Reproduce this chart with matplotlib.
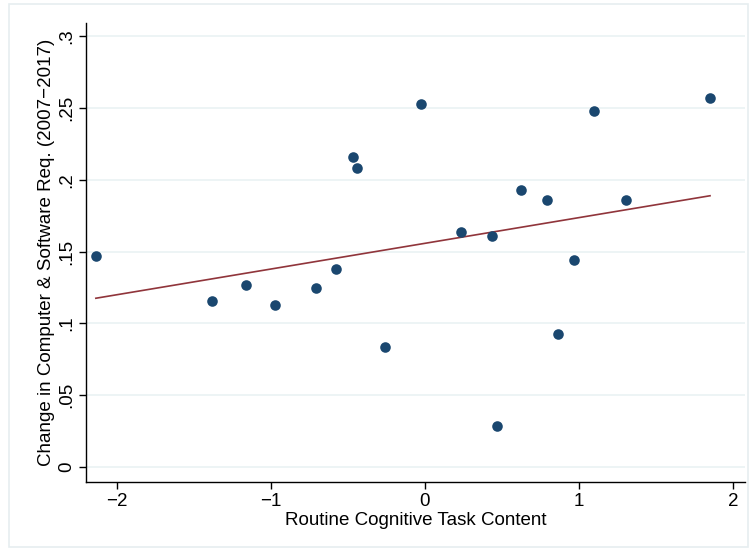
import numpy as np
import matplotlib.pyplot as plt
from matplotlib.patches import Rectangle

plt.rcParams['font.family'] = ['Liberation Sans', 'DejaVu Sans']

# routine cognitive task content vs change in computer & software requirements
rtc = [-2.136, -1.383, -1.162, -0.974, -0.708, -0.578, -0.468, -0.442, -0.260, -0.026,
       0.234, 0.435, 0.468, 0.623, 0.792, 0.864, 0.968, 1.097, 1.305, 1.851]
chg = [0.147, 0.1155, 0.127, 0.113, 0.125, 0.138, 0.216, 0.208, 0.0835, 0.2526,
       0.1635, 0.161, 0.0285, 0.193, 0.186, 0.0926, 0.144, 0.248, 0.186, 0.257]

# fitted line as shown (weighted fit in the source)
fit_intercept = 0.1558
fit_slope = 0.0179

xticks = [-2, -1, 0, 1, 2]
yticks = [0, 0.05, 0.1, 0.15, 0.2, 0.25, 0.3]
ylabels = ['0', '.05', '.1', '.15', '.2', '.25', '.3']

navy = '#1a476f'
maroon = '#90353b'

fig = plt.figure(figsize=(7.51, 5.5), dpi=100)
fig.patches.append(Rectangle((0.012, 0.005), 0.984, 0.987, transform=fig.transFigure,
                             fill=False, edgecolor='#e6eef0', linewidth=1.2))
ax = fig.add_axes([0.1145, 0.1236, 0.8775, 0.834])

ax.scatter(rtc, chg, s=58, color=navy, zorder=3, linewidths=0)

xs = np.array([min(rtc), max(rtc)])
ax.plot(xs, fit_intercept + fit_slope * xs, color=maroon, linewidth=1.2, zorder=2)

ax.set_xlim(-2.2, 2.078)
ax.set_ylim(-0.0104, 0.309)
ax.set_xticks(xticks)
ax.set_yticks(yticks)
ax.set_yticklabels(ylabels, rotation=90, va='center')
ax.tick_params(labelsize=13.5, length=5, width=1, direction='out', pad=3)
ax.grid(axis='y', color='#eaf2f3', linewidth=1.2)
ax.set_axisbelow(True)
for s in ['top', 'right']:
    ax.spines[s].set_visible(False)
ax.spines['left'].set_linewidth(1)
ax.spines['bottom'].set_linewidth(1)

ax.set_xlabel('Routine Cognitive Task Content', fontsize=13.5, labelpad=1)
ax.set_ylabel('Change in Computer & Software Req. (2007\u22122017)', fontsize=13.5, labelpad=2)

fig.savefig('out.png', dpi=100)
